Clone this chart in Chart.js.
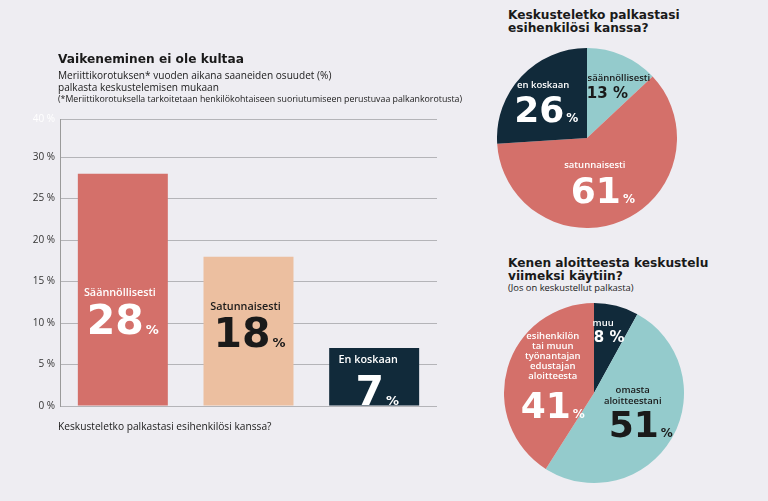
<!DOCTYPE html>
<html>
<head>
<meta charset="utf-8">
<script src="https://cdn.jsdelivr.net/npm/chart.js@4/dist/chart.umd.min.js"></script>
<style>
  html, body { margin: 0; padding: 0; }
  body { width: 768px; height: 501px; background: #eeedf2; position: relative; overflow: hidden; color: #1a1a1a; }
  canvas { position: absolute; }
  .t { position: absolute; white-space: nowrap; }
  .h { font-family: "DejaVu Sans", sans-serif; font-weight: bold; font-size: 12.2px; line-height: 13.3px; }
  .s { font-family: "Open Sans", sans-serif; }
</style>
</head>
<body>
<canvas id="bar" width="440" height="501" style="left:0;top:0"></canvas>
<canvas id="pie1" width="180" height="180" style="left:497px;top:48px"></canvas>
<canvas id="pie2" width="180" height="180" style="left:504px;top:303px"></canvas>

<div class="t h" style="left:58px;top:53px">Vaikeneminen ei ole kultaa</div>
<div class="t s" style="left:58px;top:70px;font-size:10.1px;line-height:11.5px">Meriittikorotuksen* vuoden aikana saaneiden osuudet (%)<br>palkasta keskustelemisen mukaan</div>
<div class="t s" style="left:58px;top:94px;font-size:8.8px;line-height:11px">(*Meriittikorotuksella tarkoitetaan henkilökohtaiseen suoriutumiseen perustuvaa palkankorotusta)</div>
<div class="t s" style="left:58px;top:419px;font-size:10.2px;line-height:14px">Keskusteletko palkastasi esihenkilösi kanssa?</div>

<div class="t h" style="left:508px;top:9px">Keskusteletko palkastasi<br>esihenkilösi kanssa?</div>
<div class="t h" style="left:508px;top:257px">Kenen aloitteesta keskustelu<br>viimeksi käytiin?</div>
<div class="t s" style="left:508px;top:282px;font-size:9.4px;line-height:12px">(Jos on keskustellut palkasta)</div>

<script>
// bar chart data
const barCategories = ['Säännöllisesti', 'Satunnaisesti', 'En koskaan'];
const barValues = [28, 18, 7];
const yTicks = [0, 5, 10, 15, 20, 25, 30];
const yTopLabel = '40 %';

// pie 1: Keskusteletko palkastasi esihenkilösi kanssa?
const pie1Labels = ['säännöllisesti', 'satunnaisesti', 'en koskaan'];
const pie1Values = [13, 61, 26];

// pie 2: Kenen aloitteesta keskustelu viimeksi käytiin?
const pie2Labels = [['muu'], ['omasta', 'aloitteestani'], ['esihenkilön', 'tai muun', 'työnantajan', 'edustajan', 'aloitteesta']];
const pie2Values = [8, 51, 41];

const CORAL = '#d4706a', PEACH = '#ecbfa0', NAVY = '#112a3a', TEAL = '#94cbcc';
const DARK = '#1a1a1a', WHITE = '#ffffff';
const Y_MAX = 34.6;

Chart.defaults.animation = false;
Chart.defaults.responsive = false;

// draws "name" lines and the big "NN%" inside each bar / slice
const valueLabels = {
    id: 'valueLabels',
    afterDatasetsDraw(chart, args, opts) {
        const ctx = chart.ctx;
        const meta = chart.getDatasetMeta(0);
        const labels = chart.data.labels;
        const values = chart.data.datasets[0].data;
        meta.data.forEach((el, i) => {
            const L = opts.layout[i];
            const c = el.getCenterPoint();
            const lines = Array.isArray(labels[i]) ? labels[i] : [labels[i]];
            const y0 = c.y + L.dy;
            ctx.save();
            ctx.fillStyle = L.color;
            ctx.textAlign = 'center';
            ctx.textBaseline = 'middle';
            ctx.font = `600 ${L.nameSize}px "Open Sans"`;
            lines.forEach((t, k) => ctx.fillText(t, c.x + L.nameDx, y0 + k * L.lineH));

            const ny = y0 + (lines.length - 1) * L.lineH + L.numGap;
            const num = String(values[i]);
            const pct = L.space ? ' %' : '%';
            const numFont = `bold ${L.numSize}px "DejaVu Sans"`;
            const pctFont = `bold ${L.pctSize}px "DejaVu Sans"`;
            ctx.font = numFont;
            const w1 = ctx.measureText(num).width;
            ctx.font = pctFont;
            const w2 = ctx.measureText(pct).width;
            const gap = L.space ? 0 : 2;
            const sx = c.x + L.numDx - (w1 + gap + w2) / 2;
            const base = ny + L.numSize * 0.365;
            ctx.textAlign = 'left';
            ctx.textBaseline = 'alphabetic';
            ctx.font = numFont;
            ctx.fillText(num, sx, base);
            ctx.font = pctFont;
            ctx.fillText(pct, sx + w1 + gap, base);
            ctx.restore();
        });
    }
};

new Chart(document.getElementById('bar'), {
    type: 'bar',
    data: {
        labels: barCategories,
        datasets: [{
            data: barValues,
            backgroundColor: [CORAL, PEACH, NAVY],
            borderWidth: 0,
            categoryPercentage: 1,
            barPercentage: 0.716,
        }]
    },
    options: {
        layout: { padding: { top: 119, bottom: 95, left: 0, right: 3 } },
        plugins: {
            legend: { display: false },
            tooltip: { enabled: false },
            valueLabels: {
                layout: [
                    { color: WHITE, nameSize: 10.8, lineH: 12, dy: 3.5, nameDx: -3, numGap: 26, numDx: 0, numSize: 41, pctSize: 13 },
                    { color: DARK, nameSize: 10.8, lineH: 12, dy: -24.5, nameDx: -3, numGap: 25, numDx: 1, numSize: 41, pctSize: 13 },
                    { color: WHITE, nameSize: 10.8, lineH: 12, dy: -17, nameDx: -6, numGap: 30, numDx: 3, numSize: 41, pctSize: 13 },
                ]
            }
        },
        scales: {
            x: { display: false },
            y: {
                min: 0,
                max: Y_MAX,
                afterFit(scale) { scale.width = 60; },
                afterBuildTicks(scale) {
                    scale.ticks = yTicks.concat([Y_MAX]).map(v => ({ value: v }));
                },
                border: { color: '#9a9a9a', width: 1 },
                grid: { color: '#b4b4b8', lineWidth: 1, drawTicks: false },
                ticks: {
                    padding: 5,
                    font: { family: '"Open Sans"', size: 10 },
                    color: (ctx) => ctx.tick && ctx.tick.value === Y_MAX ? '#ffffff' : '#333333',
                    callback: (v) => v === Y_MAX ? yTopLabel : v + ' %',
                }
            }
        }
    },
    plugins: [valueLabels]
});

function pieOptions(layout) {
    return {
        layout: { padding: 0 },
        plugins: {
            legend: { display: false },
            tooltip: { enabled: false },
            valueLabels: { layout }
        }
    };
}

new Chart(document.getElementById('pie1'), {
    type: 'pie',
    data: {
        labels: pie1Labels,
        datasets: [{ data: pie1Values, backgroundColor: [TEAL, CORAL, NAVY], borderWidth: 0, hoverOffset: 0 }]
    },
    options: pieOptions([
        { color: DARK, nameSize: 9.5, lineH: 11, dy: -18.7, nameDx: 14, numGap: 15, numDx: 2.5, numSize: 15, pctSize: 15, space: true },
        { color: WHITE, nameSize: 9.5, lineH: 11, dy: -14, nameDx: -10, numGap: 25, numDx: -2, numSize: 36, pctSize: 12 },
        { color: WHITE, nameSize: 9.5, lineH: 11, dy: -22, nameDx: -11, numGap: 24, numDx: -8, numSize: 36, pctSize: 12 },
    ]),
    plugins: [valueLabels]
});

new Chart(document.getElementById('pie2'), {
    type: 'pie',
    data: {
        labels: pie2Labels,
        datasets: [{ data: pie2Values, backgroundColor: [NAVY, TEAL, CORAL], borderWidth: 0, hoverOffset: 0 }]
    },
    options: pieOptions([
        { color: WHITE, nameSize: 9.5, lineH: 11, dy: -26.4, nameDx: -2, numGap: 14, numDx: 4, numSize: 15, pctSize: 15, space: true },
        { color: DARK, nameSize: 9.5, lineH: 11, dy: -26, nameDx: 0, numGap: 23, numDx: 8, numSize: 36, pctSize: 12 },
        { color: WHITE, nameSize: 9.5, lineH: 10, dy: -43.7, nameDx: 2, numGap: 28, numDx: 2, numSize: 36, pctSize: 12 },
    ]),
    plugins: [valueLabels]
});
</script>
</body>
</html>
